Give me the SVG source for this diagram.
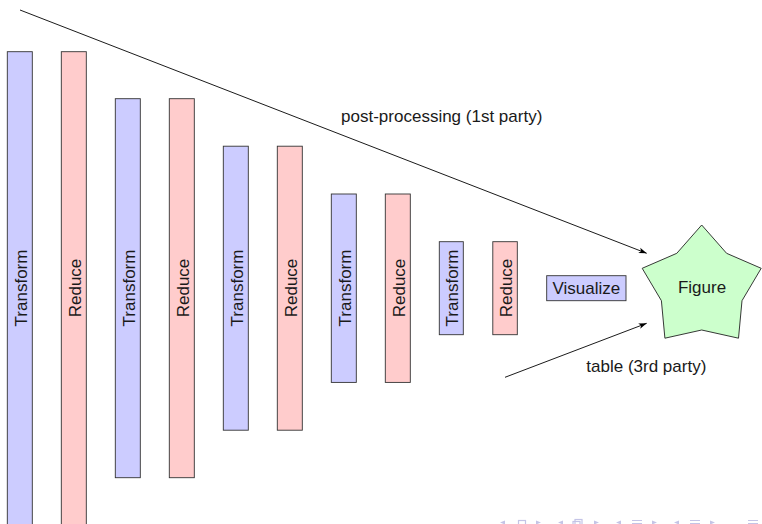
<svg xmlns="http://www.w3.org/2000/svg" width="762" height="524" viewBox="0 0 762 524">
<defs>
<style>
.t{fill:#ccccff;stroke:#333;stroke-width:0.9}
.r{fill:#ffcccc;stroke:#333;stroke-width:0.9}
.lbl{font-family:"Liberation Sans",Arial,sans-serif;font-size:17px;fill:#1a1a1a}
.edge{stroke:#000;stroke-width:0.9;fill:none}
.nav{fill:none;stroke:#c4c4e6;stroke-width:1.2}
.navf{fill:#c4c4e6}
</style>
<marker id="ah" viewBox="0 0 10 10" refX="10" refY="5" markerWidth="8" markerHeight="8" markerUnits="userSpaceOnUse" orient="auto">
<path d="M0,1.5 L10,5 L0,8.5 L2.5,5 Z" fill="#000"/>
</marker>
</defs>
<rect width="762" height="524" fill="#fff"/>

<g id="connectors">
<line class="edge" x1="20" y1="10" x2="646.7" y2="253.3" marker-end="url(#ah)"/>
<line class="edge" x1="505" y1="377.3" x2="646.7" y2="323.3" marker-end="url(#ah)"/>
<text class="lbl" x="441.7" y="122" text-anchor="middle">post-processing (1st party)</text>
<text class="lbl" x="646.3" y="371.5" text-anchor="middle">table (3rd party)</text>
</g>

<g id="transform1"><rect class="t" x="7.3" y="51.7" width="25" height="473"/><text class="lbl" transform="translate(26.6,288) rotate(-90)" text-anchor="middle">Transform</text></g>
<g id="reduce1"><rect class="r" x="61.3" y="51.7" width="25" height="473"/><text class="lbl" transform="translate(80.6,288) rotate(-90)" text-anchor="middle">Reduce</text></g>

<g id="transform2"><rect class="t" x="115.3" y="98.7" width="25" height="379"/><text class="lbl" transform="translate(134.6,288) rotate(-90)" text-anchor="middle">Transform</text></g>
<g id="reduce2"><rect class="r" x="169.3" y="98.7" width="25" height="379"/><text class="lbl" transform="translate(188.6,288) rotate(-90)" text-anchor="middle">Reduce</text></g>

<g id="transform3"><rect class="t" x="223.3" y="146.2" width="25" height="284"/><text class="lbl" transform="translate(242.6,288) rotate(-90)" text-anchor="middle">Transform</text></g>
<g id="reduce3"><rect class="r" x="277.3" y="146.2" width="25" height="284"/><text class="lbl" transform="translate(296.6,288) rotate(-90)" text-anchor="middle">Reduce</text></g>

<g id="transform4"><rect class="t" x="331.3" y="194" width="25" height="188.4"/><text class="lbl" transform="translate(350.6,288) rotate(-90)" text-anchor="middle">Transform</text></g>
<g id="reduce4"><rect class="r" x="385.3" y="194" width="25" height="188.4"/><text class="lbl" transform="translate(404.6,288) rotate(-90)" text-anchor="middle">Reduce</text></g>

<g id="transform5"><rect class="t" x="439.3" y="241.7" width="24" height="93"/><text class="lbl" transform="translate(457.8,288) rotate(-90)" text-anchor="middle">Transform</text></g>
<g id="reduce5"><rect class="r" x="492.8" y="241.7" width="24.5" height="93"/><text class="lbl" transform="translate(511.6,288) rotate(-90)" text-anchor="middle">Reduce</text></g>

<g id="visualize"><rect class="t" x="546.7" y="275.7" width="79.3" height="25"/><text class="lbl" x="586.3" y="294" text-anchor="middle">Visualize</text></g>

<g id="figure">
<polygon points="701.7,225 726.6,253.3 761.2,268.3 742,300.7 738.5,338.2 701.7,330 664.9,338.2 661.4,300.7 642.2,268.3 676.8,253.3" fill="#ccffcc" stroke="#222" stroke-width="0.9"/>
<text class="lbl" x="702" y="293" text-anchor="middle">Figure</text>
</g>

<g id="navigation">
<path class="navf" d="M500,522.5 L505,520.5 L505,524.5 Z"/>
<rect class="nav" x="518.5" y="520.5" width="7" height="6"/>
<path class="navf" d="M541,522.5 L536,520.5 L536,524.5 Z"/>
<path class="navf" d="M558,522.5 L563,520.5 L563,524.5 Z"/>
<rect class="nav" x="575" y="519.5" width="7" height="7"/>
<rect class="nav" x="573" y="521.5" width="7" height="6"/>
<path class="navf" d="M599,522.5 L594,520.5 L594,524.5 Z"/>
<path class="navf" d="M616,522.5 L621,520.5 L621,524.5 Z"/>
<path class="nav" d="M632,520.5 H642 M632,523.5 H642"/>
<path class="navf" d="M657,522.5 L652,520.5 L652,524.5 Z"/>
<path class="navf" d="M674,522.5 L679,520.5 L679,524.5 Z"/>
<path class="nav" d="M690,520.5 H700 M690,523.5 H700"/>
<path class="navf" d="M715,522.5 L710,520.5 L710,524.5 Z"/>
<path class="nav" d="M748,520.5 H758 M748,523.5 H758"/>
</g>
</svg>
